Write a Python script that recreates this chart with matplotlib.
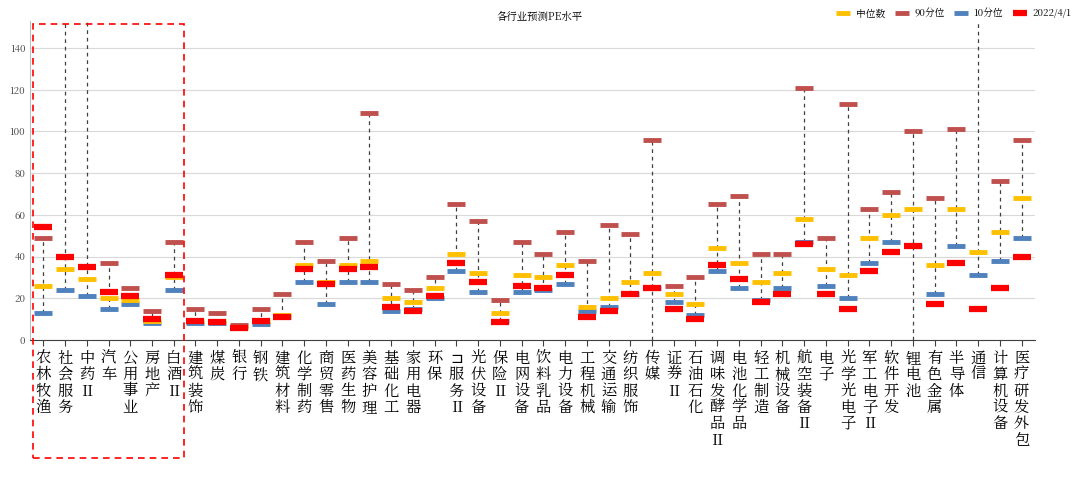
import matplotlib
matplotlib.use("Agg")
import matplotlib.pyplot as plt
from matplotlib import font_manager
from matplotlib.patches import Rectangle
import numpy as np

cjk = [f.name for f in font_manager.fontManager.ttflist if 'CJK' in f.name]
pref = [n for n in cjk if 'SC' in n] or cjk
plt.rcParams['font.family'] = (pref[:1] if pref else []) + ['DejaVu Sans']

categories = ["农林牧渔","社会服务","中药Ⅱ","汽车","公用事业","房地产","白酒Ⅱ","建筑装饰","煤炭","银行","钢铁",
              "建筑材料","化学制药","商贸零售","医药生物","美容护理","基础化工","家用电器","环保","IT服务Ⅱ","光伏设备",
              "保险Ⅱ","电网设备","饮料乳品","电力设备","工程机械","交通运输","纺织服饰","传媒","证券Ⅱ","石油石化",
              "调味发酵品Ⅱ","电池化学品","轻工制造","机械设备","航空装备Ⅱ","电子","光学光电子","军工电子Ⅱ","软件开发",
              "锂电池","有色金属","半导体","通信","计算机设备","医疗研发外包"]
p90 = [49,190,190,37,25,14,47,15,13,7,15,22,47,38,49,109,27,24,30,65,57,19,47,41,52,38,55,51,96,26,30,
       65,69,41,41,121,49,113,63,71,100,68,101,190,76,96]
median = [26,34,29,20,19,9,30,9,9,6,9,12,36,28,36,38,20,18,25,41,32,13,31,30,36,16,20,28,32,22,17,
          44,37,28,32,58,34,31,49,60,63,36,63,42,52,68]
p10 = [13,24,21,15,17,8,24,8,8,6,7.5,11,28,17,28,28,14,15,20,33,23,9,23,24,27,14,16,22,25,18,12,
       33,25,19,25,47,26,20,37,47,45,22,45,31,38,49]
current = [54,40,35,23,21,10,31,9,8.5,5.5,9,11,34,27,34,35,16,14,21,37,28,8.5,26,25,31,11,14,22,25,15,10,
           36,29,18,22,46,22,15,33,42,45,17,37,15,25,40]
whisker_low = [13,24,21,15,17,8,24,8,8,6,7.5,11,28,17,28,28,14,15,20,33,23,9,23,24,27,14,16,22,0,18,12,
               33,25,19,25,47,26,20,37,47,0,22,45,31,38,49]

fig = plt.figure(figsize=(10.8, 4.87), dpi=100)
ax = fig.add_axes([0.028, 0.302, 0.93, 0.655])
x = np.arange(len(categories))
ax.vlines(x, whisker_low, p90, colors='#404040', linestyles=(0, (3, 3)), linewidth=0.9, zorder=1)
ms = 13
ax.plot(x, p90, ls='none', marker='_', ms=ms, mew=3.5, color='#C0504D', label='90分位', zorder=3)
ax.plot(x, p10, ls='none', marker='_', ms=ms, mew=3.5, color='#4F81BD', label='10分位', zorder=3)
ax.plot(x, median, ls='none', marker='_', ms=ms, mew=3.5, color='#FFC000', label='中位数', zorder=4)
ax.plot(x, current, ls='none', marker='_', ms=ms, mew=4.5, color='#FF0000', label='2022/4/1', zorder=5)

ax.set_xlim(-0.6, len(categories) - 0.4)
ax.set_ylim(0, 153)
ax.set_yticks(range(0, 141, 20))
ax.tick_params(axis='y', labelsize=7, length=0, colors='#404040')
ax.set_xticks(x)
ax.set_xticklabels(["\n".join(list(c.replace("IT", "⊐"))) for c in categories],
                   fontsize=11, linespacing=1.0, va='top')
ax.tick_params(axis='x', length=4, colors='#404040', labelcolor='black')
ax.grid(axis='y', color='#D9D9D9', linewidth=0.8)
ax.set_axisbelow(True)
for s in ['top', 'right']:
    ax.spines[s].set_visible(False)
ax.spines['left'].set_color('#BFBFBF')
ax.spines['bottom'].set_color('#404040')

h, l = ax.get_legend_handles_labels()
order = [2, 0, 1, 3]
fig.legend([h[i] for i in order], [l[i] for i in order], loc='upper right', bbox_to_anchor=(1.0, 1.0),
           ncol=4, frameon=False, fontsize=7, handlelength=1.0, columnspacing=1.2, markerscale=0.8)
fig.text(0.5, 0.965, '各行业预测PE水平', ha='center', va='center', fontsize=7.5)

fig.patches.append(Rectangle((33/1080, 1 - 458/487), (184-33)/1080, (458-24)/487, transform=fig.transFigure,
                             fill=False, edgecolor='red', linestyle=(0, (4, 3)), linewidth=1.2))
fig.savefig('out.png', dpi=100)
